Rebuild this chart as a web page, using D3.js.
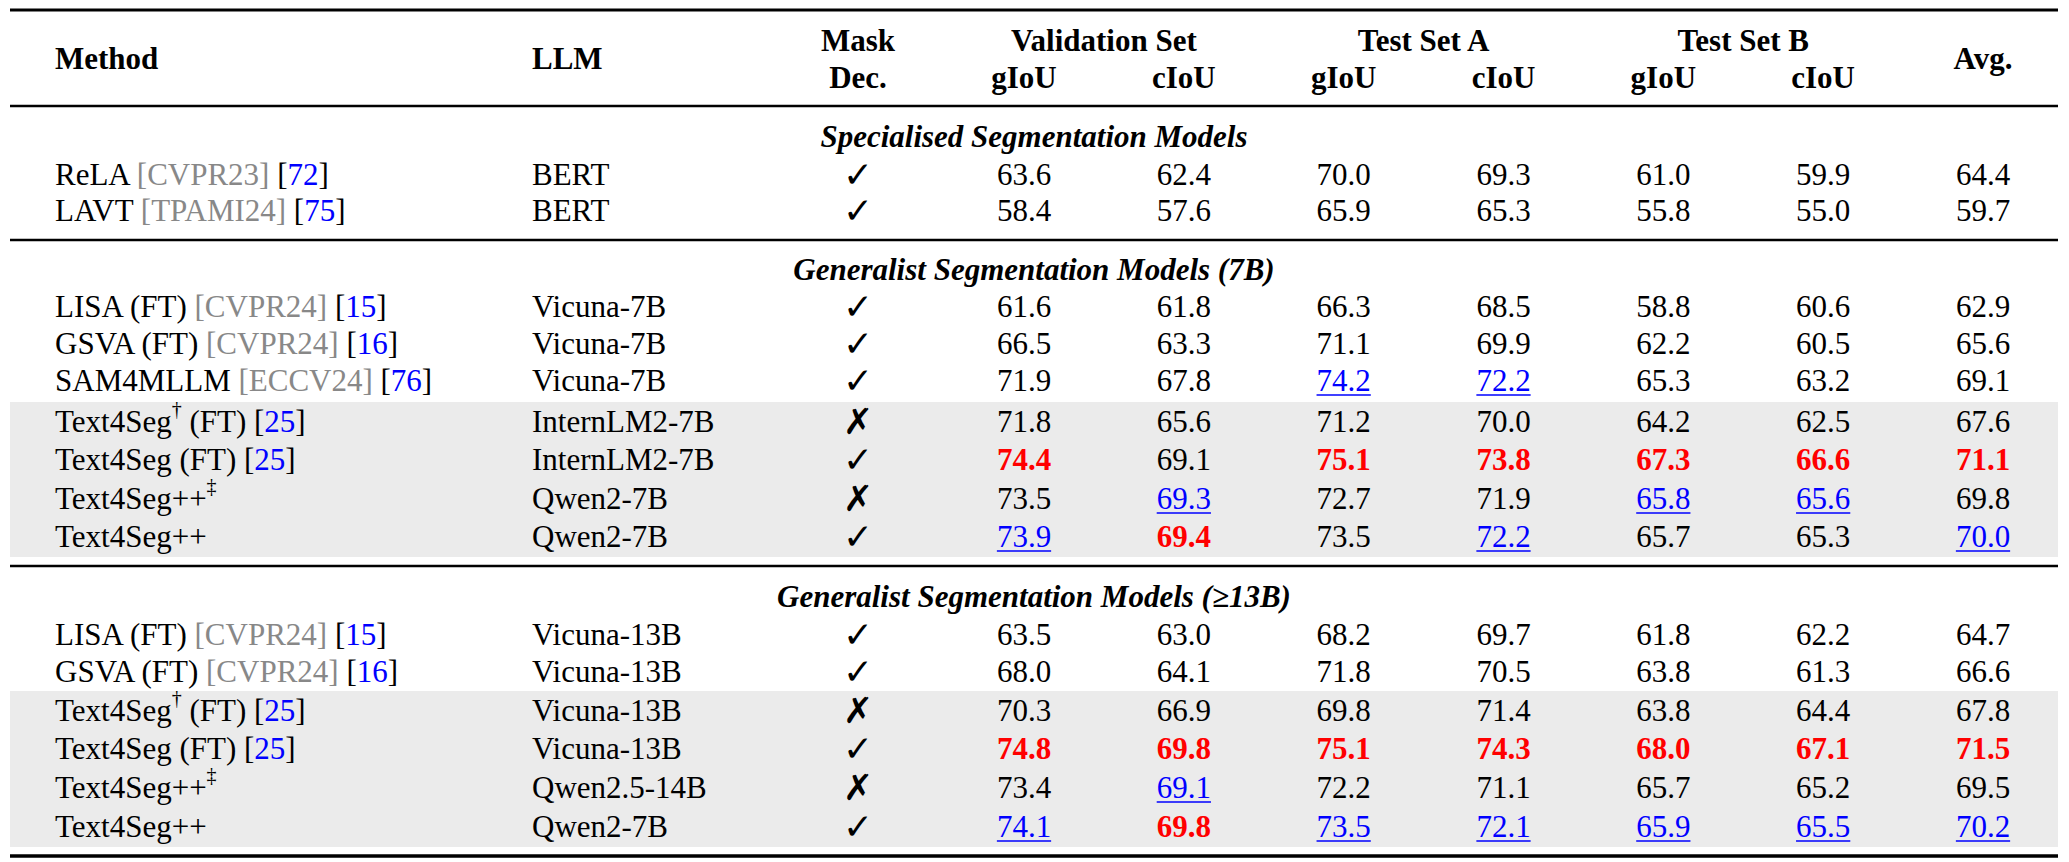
<!DOCTYPE html>
<html><head><meta charset="utf-8">
<script src="https://cdn.jsdelivr.net/npm/d3@7"></script>
<style>body{margin:0;background:#fff}svg{display:block}</style>
</head><body><svg id="c" width="2069" height="862"></svg>
<script>
const columns=["val_g","val_c","a_g","a_c","b_g","b_c","avg"];
const groups=[{t:"Specialised Segmentation Models",rows:[0,1],gray:[]},
{t:"Generalist Segmentation Models (7B)",rows:[2,3,4,5,6,7,8],gray:[5,6,7,8]},
{t:"Generalist Segmentation Models (≥13B)",rows:[9,10,11,12,13,14],gray:[11,12,13,14]}];
const methods=[["ReLA","","[CVPR23]","72"],["LAVT","","[TPAMI24]","75"],
["LISA (FT)","","[CVPR24]","15"],["GSVA (FT)","","[CVPR24]","16"],["SAM4MLLM","","[ECCV24]","76"],
["Text4Seg","†"," (FT)","25"],["Text4Seg (FT)","","","25"],["Text4Seg++","‡","",""],["Text4Seg++","","",""],
["LISA (FT)","","[CVPR24]","15"],["GSVA (FT)","","[CVPR24]","16"],
["Text4Seg","†"," (FT)","25"],["Text4Seg (FT)","","","25"],["Text4Seg++","‡","",""],["Text4Seg++","","",""]];
const llms=["BERT","BERT","Vicuna-7B","Vicuna-7B","Vicuna-7B","InternLM2-7B","InternLM2-7B","Qwen2-7B","Qwen2-7B",
"Vicuna-13B","Vicuna-13B","Vicuna-13B","Vicuna-13B","Qwen2.5-14B","Qwen2-7B"];
const maskDec=[1,1,1,1,1,0,1,0,1,1,1,0,1,0,1];
const values=[
[63.6,62.4,70.0,69.3,61.0,59.9,64.4],[58.4,57.6,65.9,65.3,55.8,55.0,59.7],
[61.6,61.8,66.3,68.5,58.8,60.6,62.9],[66.5,63.3,71.1,69.9,62.2,60.5,65.6],[71.9,67.8,74.2,72.2,65.3,63.2,69.1],
[71.8,65.6,71.2,70.0,64.2,62.5,67.6],[74.4,69.1,75.1,73.8,67.3,66.6,71.1],[73.5,69.3,72.7,71.9,65.8,65.6,69.8],[73.9,69.4,73.5,72.2,65.7,65.3,70.0],
[63.5,63.0,68.2,69.7,61.8,62.2,64.7],[68.0,64.1,71.8,70.5,63.8,61.3,66.6],[70.3,66.9,69.8,71.4,63.8,64.4,67.8],
[74.8,69.8,75.1,74.3,68.0,67.1,71.5],[73.4,69.1,72.2,71.1,65.7,65.2,69.5],[74.1,69.8,73.5,72.1,65.9,65.5,70.2]];
// style: 0 normal, 1 best (red bold), 2 second (blue underline)
const marks=[
[0,0,0,0,0,0,0],[0,0,0,0,0,0,0],
[0,0,0,0,0,0,0],[0,0,0,0,0,0,0],[0,0,2,2,0,0,0],
[0,0,0,0,0,0,0],[1,0,1,1,1,1,1],[0,2,0,0,2,2,0],[2,1,0,2,0,0,2],
[0,0,0,0,0,0,0],[0,0,0,0,0,0,0],[0,0,0,0,0,0,0],
[1,1,1,1,1,1,1],[0,2,0,0,0,0,0],[2,1,2,2,2,2,2]];
const colHeads=["gIoU","cIoU","gIoU","cIoU","gIoU","cIoU"];
const groupHeads=["Validation Set","Test Set A","Test Set B"];

const svg=d3.select("#c");
const F="'Liberation Serif','Times New Roman',serif", FS=31;
const xCol=d3.scalePoint().domain(columns).range([1024,1983]);
const rowY=d3.scaleOrdinal().domain(d3.range(15)).range([174,210,306,343,380,421,459,498,536,634,671,710,748,787,826]);
const secY=[136,269,596];
const L=10,R=2058;
// gray backgrounds (contiguous blocks)
groups.filter(g=>g.gray.length).forEach(g=>{
  const y0=rowY(g.gray[0])-19, y1=rowY(g.gray[g.gray.length-1])+21;
  svg.append("rect").attr("x",L).attr("width",R-L).attr("y",y0).attr("height",y1-y0).attr("fill","#ebebeb");
});
// rules
[[10,3],[106,2.5],[240,2.5],[566,2.5],[856,3.5]].forEach(([y,w])=>svg.append("line").attr("x1",L).attr("x2",R).attr("y1",y).attr("y2",y).attr("stroke","#000").attr("stroke-width",w));
const txt=(x,y,s,o={})=>svg.append("text").attr("x",x).attr("y",y).attr("dominant-baseline","central")
 .attr("font-family",o.ff||F).attr("font-size",o.fs||FS).attr("font-weight",o.b?"bold":"normal").attr("font-style",o.i?"italic":"normal")
 .attr("text-anchor",o.a||"start").attr("fill",o.c||"#000").text(s);
// header
txt(55,58,"Method",{b:1});txt(532,58,"LLM",{b:1});
txt(858,40,"Mask",{b:1,a:"middle"});txt(858,77,"Dec.",{b:1,a:"middle"});
groupHeads.forEach((h,k)=>txt((xCol(columns[2*k])+xCol(columns[2*k+1]))/2,40,h,{b:1,a:"middle"}));
colHeads.forEach((h,k)=>txt(xCol(columns[k]),77,h,{b:1,a:"middle"}));
txt(xCol("avg"),58,"Avg.",{b:1,a:"middle"});
groups.forEach((g,k)=>txt(1034,secY[k],g.t,{b:1,i:1,a:"middle"}));
// rows
methods.forEach((m,i)=>{
  const y=rowY(i);
  const t=svg.append("text").attr("x",55).attr("y",y).attr("dominant-baseline","central").attr("font-family",F).attr("font-size",FS);
  t.append("tspan").text(m[0]);
  if(m[1]) t.append("tspan").attr("font-size",20).attr("dy",-12).text(m[1]);
  if(m[1]&&m[2]) t.append("tspan").attr("dy",12).text(m[2]);
  else if(m[2]) t.append("tspan").attr("fill","#888").text(" "+m[2]);
  if(m[3]){t.append("tspan").text(" [");t.append("tspan").attr("fill","#0000ff").text(m[3]);t.append("tspan").text("]");}
  txt(532,y,llms[i]);
  txt(858,y,maskDec[i]?"✓":"✗",{a:"middle",fs:36,ff:"'DejaVu Sans',sans-serif"});
  values[i].forEach((v,j)=>{
    const mk=marks[i][j];
    const x=xCol(columns[j]);
    const e=txt(x,y,v.toFixed(1),{a:"middle",b:mk==1,c:mk==1?"#ff0000":mk==2?"#0000ff":"#000"});
    if(mk==2){const w=e.node().getComputedTextLength();
      svg.append("line").attr("x1",x-w/2).attr("x2",x+w/2).attr("y1",y+15).attr("y2",y+15).attr("stroke","#0000ff").attr("stroke-width",1.6);}
  });
});
</script></body></html>
